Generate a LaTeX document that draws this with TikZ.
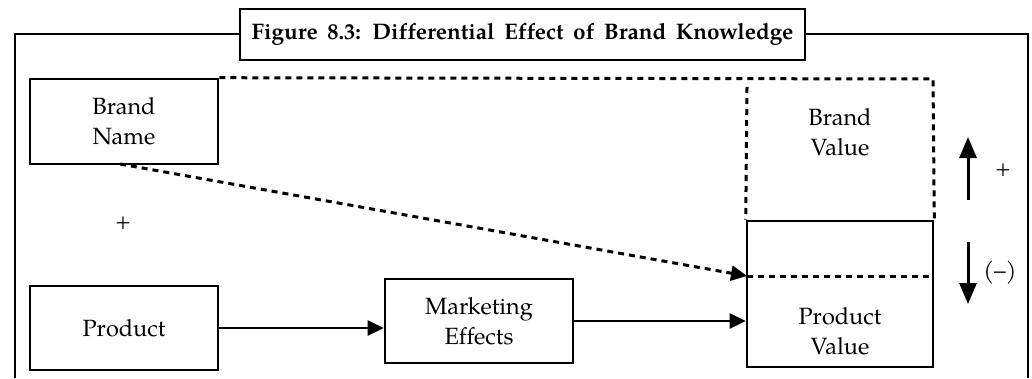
\documentclass[tikz,border=0pt]{standalone}
\usepackage{fontspec}
\setmainfont[Ligatures=NoCommon]{TeX Gyre Pagella}
\usetikzlibrary{arrows.meta}
\tikzset{
  box/.style={draw, line width=2.6pt, fill=white, align=center, inner sep=0pt,
    font=\fontsize{23.5}{30}\selectfont},
  lbl/.style={inner sep=0pt, align=center, font=\fontsize{23.5}{30}\selectfont},
  frame/.style={line width=2.4pt},
  dline/.style={line width=3pt, dash pattern=on 6pt off 5pt},
  arr/.style={line width=2.6pt, -{Triangle[length=16pt,width=15pt]}},
  bigarr/.style={line width=3pt, -{Triangle[length=21pt,width=17pt]}}
}
\begin{document}
\begin{tikzpicture}[x=1pt,y=-1pt]
\useasboundingbox (0,0) rectangle (1032,378);
% outer frame
\draw[frame] (15,378) -- (15,34) -- (1028,34) -- (1028,378);
% title
\node[box, line width=2.4pt, minimum width=565pt, minimum height=51pt,
  font=\fontsize{22.5}{26}\selectfont\bfseries] (title) at (522.5,34.5)
  {\spaceskip=0.42em\relax Figure 8.3: Differential Effect of Brand Knowledge};
% boxes
\node[box, minimum width=188pt, minimum height=85pt] (bn) at (124,121.5) {Brand\\Name};
\node[box, minimum width=188pt, minimum height=84pt] (prod) at (124,328) {Product};
\node[box, minimum width=188pt, minimum height=84pt] (mkt) at (479,321) {Marketing\\Effects};
\node[box, minimum width=186pt, minimum height=146pt] (pv) at (840,294) {};
\node[lbl] (pvt) at (840,331) {Product\\Value};
\node[lbl] (bvt) at (840,132) {Brand\\Value};
% dashed brand value region
\coordinate (tr) at (933,79);
\coordinate (bl) at (747,87);
\draw[dline] (bn.north east) -- (tr) -- (pv.north east);
\draw[dline] (bl) -- (pv.north west);
\coordinate (ml) at (747,276);
\coordinate (mr) at (933,276);
\draw[dline] (ml) -- (mr);
% arrows
\draw[arr, dash pattern=on 6pt off 5pt, line width=3pt] (120,164) -- (ml);
\draw[arr] (prod.east) -- (mkt.west |- prod.east);
\draw[arr] (mkt.east) -- (pv.west |- mkt.east);
% up/down arrows
\coordinate (ua) at (968,200);
\coordinate (ub) at (968,137);
\draw[bigarr] (ua) -- (ub);
\coordinate (da) at (968,242);
\coordinate (db) at (968,304);
\draw[bigarr] (da) -- (db);
\node[lbl, font=\fontsize{21}{24}\selectfont] (plusr) at (1003,170) {+};
\node[lbl] (minus) at (1000,273) {(--)};
\node[lbl, font=\fontsize{21}{24}\selectfont] (plusl) at (123,223) {+};
\end{tikzpicture}
\end{document}
